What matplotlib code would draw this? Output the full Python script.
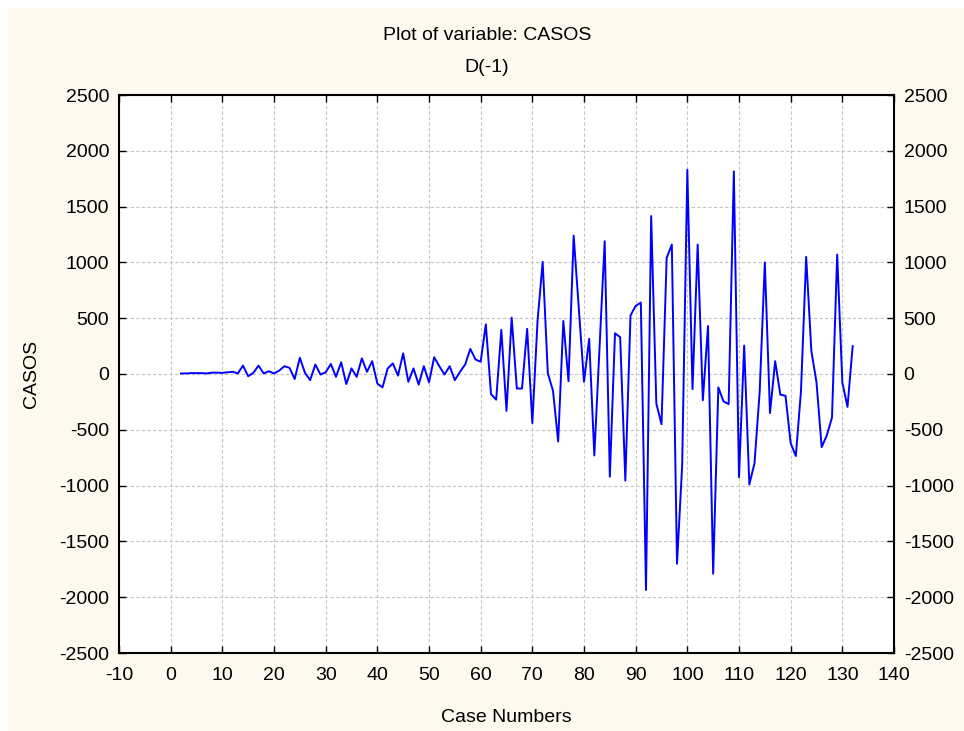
import matplotlib.pyplot as plt
from matplotlib.patches import Rectangle
import numpy as np

plt.rcParams['font.family'] = ['Liberation Sans', 'DejaVu Sans']
plt.rcParams['axes.unicode_minus'] = False

# differenced series D(-1) of CASOS, case 1 is lost by the differencing
case_start = 2
casos_d1 = [
    5, 5, 8, 8, 8, 5, 12, 12, 10, 15, 20,            # 2-12
    5, 75, -20, 10, 75, 5, 25, 5, 30, 70,            # 13-22
    55, -45, 145, 10, -55, 85, -5, 15, 90, -25,      # 23-32
    105, -90, 50, -25, 140, 20, 115, -85, -120, 50,  # 33-42
    95, -15, 185, -70, 50, -95, 70, -75, 150, 70,    # 43-52
    -5, 70, -55, 20, 85, 225, 130, 110, 445, -180,   # 53-62
    -230, 395, -330, 505, -130, -130, 405, -440, 470, 1005,  # 63-72
    5, -150, -605, 475, -65, 1240, 580, -70, 315, -730,      # 73-82
    230, 1190, -920, 365, 330, -955, 525, 610, 640, -1935,   # 83-92
    1415, -265, -450, 1040, 1160, -1700, -820, 1830, -135, 1160,  # 93-102
    -235, 430, -1790, -120, -245, -270, 1815, -925, 255, -990,    # 103-112
    -800, -160, 1000, -350, 115, -185, -195, -620, -735, -150,    # 113-122
    1050, 210, -75, -655, -550, -390, 1070, -75, -295, 250,       # 123-132
]
case_numbers = np.arange(case_start, case_start + len(casos_d1))

x_ticks = np.arange(-10, 141, 10)
y_ticks = np.arange(-2500, 2501, 500)

cream = '#fdf9ef'
fs = 14

fig = plt.figure(figsize=(9.64, 7.31), dpi=100, facecolor='white')
fig.patches.append(Rectangle((8 / 964, 0), 1, 1 - 8 / 731, transform=fig.transFigure,
                             facecolor=cream, edgecolor='none', zorder=-10))

ax = fig.add_axes([119 / 964, 1 - 653 / 731, 775 / 964, 558 / 731])
ax.set_facecolor('white')

ax.plot(case_numbers, casos_d1, color='#0000ff', linewidth=1.4)

ax.set_xlim(-10, 140)
ax.set_ylim(-2500, 2500)
ax.set_xticks(x_ticks)
ax.set_yticks(y_ticks)
ax.grid(True, color='#c4c4c4', linestyle=(0, (3, 2)), linewidth=0.8)
ax.set_axisbelow(True)

ax.tick_params(direction='in', length=5, width=1, labelsize=fs,
               top=True, right=True, labelright=True)
ax.tick_params(axis='x', pad=10)
ax.tick_params(axis='y', pad=7)
for spine in ax.spines.values():
    spine.set_linewidth(1.5)

ax.set_xlabel('Case Numbers', fontsize=fs, labelpad=18)
ax.set_ylabel('CASOS', fontsize=fs, labelpad=14)

fig.text(0.505, 1 - 35 / 731, 'Plot of variable: CASOS', ha='center', va='center', fontsize=fs)
fig.text(0.505, 1 - 68 / 731, 'D(-1)', ha='center', va='center', fontsize=fs)

fig.savefig('out.png', dpi=100, facecolor=fig.get_facecolor())
